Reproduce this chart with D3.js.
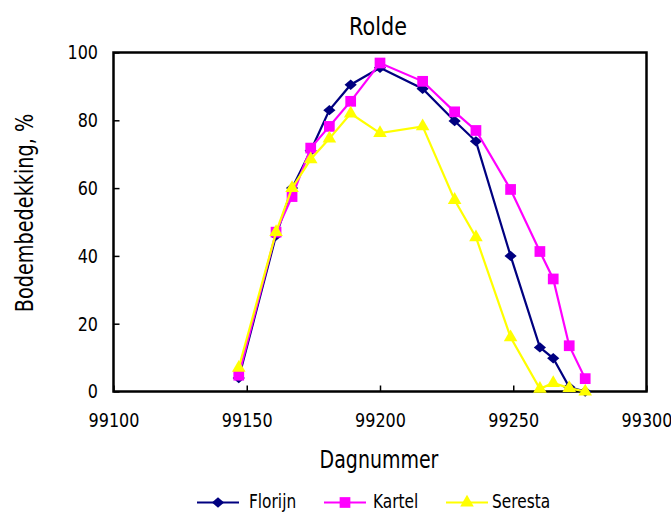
<!DOCTYPE html>
<html>
<head>
<meta charset="utf-8">
<script src="https://cdn.jsdelivr.net/npm/d3@7"></script>
<style>
    body { margin: 0; background: #fff; }
    text { font-family: "DejaVu Sans", sans-serif; fill: #000; }
</style>
</head>
<body>
<svg id="chart" width="671" height="512"></svg>
<script>
// dag nummers
var days = [99147, 99161, 99167, 99174, 99181, 99189, 99200, 99216, 99228, 99236, 99249, 99260, 99265, 99271, 99277];

var florijn = [4, 46, 60, 71, 83, 90.5, 95.5, 89.3, 79.8, 73.8, 40, 13, 9.8, 1.3, 0];
var kartel = [4.8, 47, 57.5, 71.8, 78.2, 85.6, 96.9, 91.5, 82.5, 77, 59.6, 41.3, 33.2, 13.5, 3.8];
var seresta = [7, 47, 60, 68.5, 74.6, 82, 76.2, 78.2, 56.5, 45.5, 16, 0.8, 2.5, 1, 0];

var xTicks = [99100, 99150, 99200, 99250, 99300];
var yTicks = [0, 20, 40, 60, 80, 100];

var series = [
    {name: "Florijn", values: florijn, color: "#000080", symbol: d3.symbolDiamond2, size: 95, sx: 1, sy: 0.85},
    {name: "Kartel", values: kartel, color: "#ff00ff", symbol: d3.symbolSquare, size: 115, sx: 1, sy: 1},
    {name: "Seresta", values: seresta, color: "#ffff00", symbol: d3.symbolTriangle, size: 80, sx: 1, sy: 1}
];

// no narrow font installed, squeeze glyphs horizontally
var NARROW = 0.8;

function narrowText(parent, x, y, k, size, str) {
    return parent.append("text")
        .attr("transform", "translate(" + x + "," + y + ") scale(" + k + ",1)")
        .style("font-size", size + "px")
        .text(str);
}

function drawChart() {
    var svg = d3.select("#chart");
    var pLeft = 113.5, pRight = 646.5, pTop = 52.5, pBottom = 391.5;

    var x = d3.scaleLinear().domain([99100, 99300]).range([pLeft, pRight]);
    var y = d3.scaleLinear().domain([0, 100]).range([pBottom, pTop]);

    // frame
    svg.append("rect")
        .attr("x", pLeft).attr("y", pTop)
        .attr("width", pRight - pLeft).attr("height", pBottom - pTop)
        .attr("fill", "none").attr("stroke", "#000").attr("stroke-width", 2.5);

    // ticks point inward
    var xAxis = svg.append("g")
        .attr("transform", "translate(0," + pBottom + ")")
        .call(d3.axisBottom(x).tickValues(xTicks).tickSize(-6).tickPadding(21).tickFormat(d3.format("d")));
    xAxis.select(".domain").remove();
    xAxis.selectAll("line").attr("stroke-width", 1.5);
    xAxis.selectAll("text")
        .style("font-size", "20px")
        .attr("transform", "scale(" + NARROW + ",1)");

    var yAxis = svg.append("g")
        .attr("transform", "translate(" + pLeft + ",0)")
        .call(d3.axisLeft(y).tickValues(yTicks).tickSize(-6));
    yAxis.select(".domain").remove();
    yAxis.selectAll("line").attr("stroke-width", 1.5);
    yAxis.selectAll("text")
        .style("font-size", "20px")
        .attr("x", -15.5 / NARROW)
        .attr("transform", "scale(" + NARROW + ",1)");

    narrowText(svg, 378, 35, 0.83, 25, "Rolde")
        .attr("text-anchor", "middle");

    narrowText(svg, 379, 468, 0.76, 25, "Dagnummer")
        .attr("text-anchor", "middle");

    svg.append("text")
        .attr("transform", "translate(33,213) rotate(-90) scale(0.77,1)")
        .attr("text-anchor", "middle")
        .style("font-size", "25px")
        .text("Bodembedekking, %");

    var line = d3.line()
        .x(function (d) { return x(d.day); })
        .y(function (d) { return y(d.v); });

    series.forEach(function (s) {
        var pts = days.map(function (d, i) {
            return {day: d, v: s.values[i]};
        });
        var g = svg.append("g");
        g.append("path")
            .datum(pts)
            .attr("d", line)
            .attr("fill", "none")
            .attr("stroke", s.color)
            .attr("stroke-width", 2.2);
        g.selectAll(".mark")
            .data(pts)
            .enter().append("path")
            .attr("class", "mark")
            .attr("transform", function (d) {
                return "translate(" + x(d.day) + "," + y(d.v) + ") scale(" + s.sx + "," + s.sy + ")";
            })
            .attr("d", d3.symbol().type(s.symbol).size(s.size))
            .attr("fill", s.color);
    });

    // legend
    var legendPos = [197, 324, 446];
    var legendText = [52, 49, 46];
    series.forEach(function (s, i) {
        var lg = svg.append("g").attr("transform", "translate(" + legendPos[i] + ",502.5)");
        lg.append("line")
            .attr("x1", 0).attr("x2", 42)
            .attr("stroke", s.color).attr("stroke-width", 2.2);
        lg.append("path")
            .attr("transform", "translate(21,0) scale(" + s.sx + "," + s.sy + ")")
            .attr("d", d3.symbol().type(s.symbol).size(s.size))
            .attr("fill", s.color);
        narrowText(lg, legendText[i], 5.5, 0.77, 20, s.name);
    });
}

drawChart();
</script>
</body>
</html>
